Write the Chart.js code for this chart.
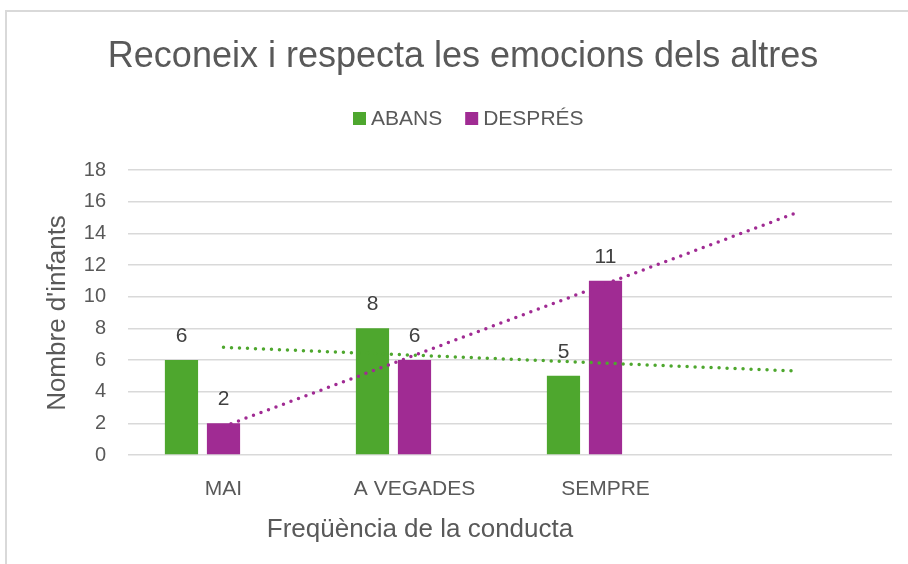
<!DOCTYPE html>
<html>
<head>
<meta charset="utf-8">
<script src="https://cdn.jsdelivr.net/npm/chart.js@4/dist/chart.umd.min.js"></script>
<style>
  html, body { margin: 0; padding: 0; background: #fff; }
  #wrap { width: 908px; height: 564px; position: relative; }
</style>
</head>
<body>
<div id="wrap"><canvas id="chart" width="908" height="564"></canvas></div>
<script>
// categories (the 4th is an empty slot the trendlines run into)
const categories = ["MAI", "A VEGADES", "SEMPRE", ""];
const abans = [6, 8, 5, null];
const despres = [2, 6, 11, null];
// linear trendlines
const trendAbans = [6.8, 6.3, 5.8, 5.3];
const trendDespres = [1.8, 6.3, 10.8, 15.3];
const yTicks = [0, 2, 4, 6, 8, 10, 12, 14, 16, 18];

const GREEN = "#4ea72e";
const PURPLE = "#a02b93";
const TEXT = "#595959";
const FONT = "'Liberation Sans', Arial, sans-serif";

const decorations = {
  id: "decorations",
  beforeDraw(chart) {
    const ctx = chart.ctx;
    ctx.save();
    ctx.strokeStyle = "#d9d9d9";
    ctx.lineWidth = 2;
    ctx.beginPath();
    ctx.moveTo(6, 564);
    ctx.lineTo(6, 11);
    ctx.lineTo(908, 11);
    ctx.stroke();
    ctx.restore();
  },
  afterDraw(chart) {
    const ctx = chart.ctx;
    ctx.save();
    // title
    ctx.fillStyle = TEXT;
    ctx.font = "36px " + FONT;
    ctx.textAlign = "center";
    ctx.textBaseline = "alphabetic";
    ctx.fillText("Reconeix i respecta les emocions dels altres", 463, 67);

    // legend (bar series only)
    const items = chart.data.datasets.filter((d) => d.type !== "line" && d.label);
    ctx.font = "21px " + FONT;
    ctx.textAlign = "left";
    let x = 353;
    items.forEach((d) => {
      ctx.fillStyle = d.backgroundColor;
      ctx.fillRect(x, 112, 13, 13);
      ctx.fillStyle = TEXT;
      ctx.fillText(d.label, x + 18, 125);
      x += 18 + ctx.measureText(d.label).width + 23;
    });

    // data labels
    ctx.fillStyle = "#404040";
    ctx.font = "21px " + FONT;
    ctx.textAlign = "center";
    chart.data.datasets.forEach((d, i) => {
      if (d.type === "line") return;
      const meta = chart.getDatasetMeta(i);
      meta.data.forEach((bar, j) => {
        const v = d.data[j];
        if (v == null) return;
        ctx.fillText(String(v), bar.x, bar.y - 18);
      });
    });

    // axis titles
    ctx.fillStyle = TEXT;
    ctx.font = "26px " + FONT;
    ctx.fillText("Freqüència de la conducta", 420, 537);
    ctx.save();
    ctx.translate(65, 313);
    ctx.rotate(-Math.PI / 2);
    ctx.fillText("Nombre d'infants", 0, 0);
    ctx.restore();
    ctx.restore();
  }
};

new Chart(document.getElementById("chart"), {
  type: "bar",
  data: {
    labels: categories,
    datasets: [
      { label: "ABANS", data: abans, backgroundColor: GREEN, order: 2 },
      { label: "DESPRÉS", data: despres, backgroundColor: PURPLE, order: 2 },
      { label: "", data: [null, null, null, null], backgroundColor: "transparent", order: 2 },
      {
        type: "line", label: "trend ABANS", data: trendAbans,
        borderColor: GREEN, borderWidth: 3.5, borderDash: [0, 8], borderCapStyle: "round",
        pointRadius: 0, fill: false, order: 1
      },
      {
        type: "line", label: "trend DESPRÉS", data: trendDespres,
        borderColor: PURPLE, borderWidth: 3.5, borderDash: [0, 8], borderCapStyle: "round",
        pointRadius: 0, fill: false, order: 1
      }
    ]
  },
  options: {
    responsive: false,
    animation: false,
    layout: { padding: { top: 170, left: 0, right: 16, bottom: 49 } },
    datasets: { bar: { categoryPercentage: 0.66, barPercentage: 0.79 } },
    plugins: {
      legend: { display: false },
      title: { display: false },
      tooltip: { enabled: false }
    },
    scales: {
      x: {
        grid: { display: false },
        border: { display: false },
        ticks: { color: TEXT, font: { family: FONT, size: 21 }, padding: 14, maxRotation: 0 },
        afterFit(scale) { scale.height = 60; }
      },
      y: {
        min: 0,
        max: 18,
        afterBuildTicks(scale) { scale.ticks = yTicks.map((v) => ({ value: v })); },
        grid: { color: "#d9d9d9", lineWidth: 1.5, drawTicks: false },
        border: { display: false },
        ticks: { color: TEXT, font: { family: FONT, size: 20 }, padding: 22 },
        afterFit(scale) { scale.width = 128; }
      }
    }
  },
  plugins: [decorations]
});
</script>
</body>
</html>
